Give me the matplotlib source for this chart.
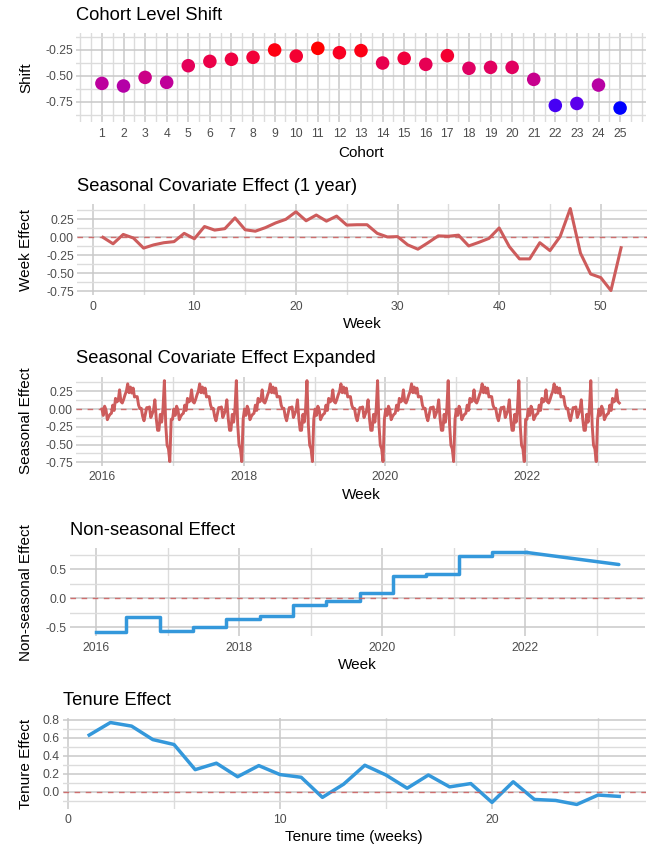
import numpy as np
import pandas as pd
import matplotlib
matplotlib.use("Agg")
import matplotlib.pyplot as plt
import matplotlib.dates as mdates
from matplotlib.ticker import FixedLocator

plt.rcParams["font.family"] = ["Liberation Sans", "DejaVu Sans"]

# ---------------- data ----------------
cohorts = list(range(1, 26))
cohort_shift = [-0.573, -0.598, -0.515, -0.563, -0.402, -0.360, -0.340, -0.321,
                -0.250, -0.309, -0.234, -0.276, -0.256, -0.376, -0.331, -0.389,
                -0.305, -0.427, -0.418, -0.418, -0.534, -0.786, -0.767, -0.589,
                -0.811]

weeks = list(range(1, 53))
week_effect = [0.00, -0.09, 0.04, -0.01, -0.15, -0.105, -0.075, -0.06, 0.055, -0.02,
               0.15, 0.10, 0.12, 0.27, 0.105, 0.085, 0.135, 0.20, 0.25, 0.355,
               0.23, 0.31, 0.225, 0.295, 0.17, 0.175, 0.175, 0.055, 0.005, 0.01,
               -0.105, -0.165, -0.075, 0.02, 0.015, 0.03, -0.12, -0.07, -0.015, 0.13,
               -0.13, -0.30, -0.30, -0.075, -0.185, 0.01, 0.40, -0.22, -0.51, -0.56,
               -0.74, -0.145]

series_start = "2016-01-01"
series_end = "2023-04-25"

trend_change_dates = ["2016-01-01", "2016-06-03", "2016-11-21", "2017-05-11",
                      "2017-10-26", "2018-04-16", "2018-10-04", "2019-03-21",
                      "2019-09-09", "2020-02-24", "2020-08-14", "2021-01-29",
                      "2021-07-16"]
trend_levels = [-0.59, -0.33, -0.57, -0.49, -0.36, -0.31, -0.115, -0.05,
                0.10, 0.39, 0.425, 0.727, 0.795]
decline_dates = ["2022-01-06", "2023-04-25"]
decline_levels = [0.795, 0.585]

tenure_weeks = list(range(1, 27))
tenure_effect = [0.63, 0.77, 0.73, 0.58, 0.525, 0.245, 0.317, 0.166, 0.29, 0.19,
                 0.16, -0.064, 0.083, 0.294, 0.185, 0.038, 0.185, 0.053, 0.09, -0.12,
                 0.11, -0.087, -0.098, -0.143, -0.038, -0.053]

# ---------------- helpers ----------------
W, H = 650, 847
fig = plt.figure(figsize=(W / 100, H / 100), dpi=100)

RED = "#cd5c5c"
BLUE = "#3498db"
TICK_COL = "#4d4d4d"


def add_panel(left, top, right, bottom):
    return fig.add_axes([left / W, 1 - bottom / H, (right - left) / W, (bottom - top) / H])


def finish(ax, box, title, xlabel, ylabel, xlab_gap=29):
    left, top, right, bottom = box
    for s in ax.spines.values():
        s.set_visible(False)
    ax.tick_params(which="both", length=0, labelsize=8.8, labelcolor=TICK_COL)
    ax.tick_params(axis="x", pad=4)
    ax.tick_params(axis="y", pad=2.2)
    ax.grid(which="major", color="#c9c9c9", lw=1.1)
    ax.grid(which="minor", color="#dcdcdc", lw=1.0)
    ax.set_axisbelow(True)
    fig.text(left / W, 1 - (top - 18) / H, title, ha="left", va="center", fontsize=13.2)
    fig.text(26 / W, 1 - ((top + bottom) / 2) / H, ylabel, rotation=90,
             ha="center", va="center", fontsize=11)
    fig.text(((left + right) / 2) / W, 1 - (bottom + xlab_gap) / H, xlabel,
             ha="center", va="center", fontsize=11)


def zero_line(ax):
    ax.axhline(0, color=RED, lw=1.0, ls=(0, (4, 4)), alpha=0.85, zorder=3)


def srgb_to_lab(rgb):
    rgb = np.asarray(rgb, float)
    lin = np.where(rgb <= 0.04045, rgb / 12.92, ((rgb + 0.055) / 1.055) ** 2.4)
    M = np.array([[0.4124, 0.3576, 0.1805], [0.2126, 0.7152, 0.0722], [0.0193, 0.1192, 0.9505]])
    xyz = lin @ M.T / np.array([0.95047, 1.0, 1.08883])
    f = np.where(xyz > 0.008856, np.cbrt(xyz), 7.787 * xyz + 16 / 116)
    return np.stack([116 * f[..., 1] - 16, 500 * (f[..., 0] - f[..., 1]),
                     200 * (f[..., 1] - f[..., 2])], axis=-1)


def lab_to_srgb(lab):
    lab = np.asarray(lab, float)
    fy = (lab[..., 0] + 16) / 116
    fx = fy + lab[..., 1] / 500
    fz = fy - lab[..., 2] / 200
    f = np.stack([fx, fy, fz], axis=-1)
    xyz = np.where(f ** 3 > 0.008856, f ** 3, (f - 16 / 116) / 7.787) * np.array([0.95047, 1.0, 1.08883])
    Minv = np.linalg.inv(np.array([[0.4124, 0.3576, 0.1805], [0.2126, 0.7152, 0.0722], [0.0193, 0.1192, 0.9505]]))
    lin = np.clip(xyz @ Minv.T, 0, 1)
    rgb = np.where(lin <= 0.0031308, 12.92 * lin, 1.055 * lin ** (1 / 2.4) - 0.055)
    return np.clip(rgb, 0, 1)


def year_locators(ax):
    ax.xaxis.set_major_locator(FixedLocator(mdates.date2num(pd.to_datetime(
        ["2016-01-01", "2018-01-01", "2020-01-01", "2022-01-01"]))))
    ax.xaxis.set_minor_locator(FixedLocator(mdates.date2num(pd.to_datetime(
        ["2017-01-01", "2019-01-01", "2021-01-01", "2023-01-01"]))))
    ax.xaxis.set_major_formatter(mdates.DateFormatter("%Y"))


# ---------------- panel 1: cohort level shift ----------------
box1 = (76, 33, 646, 122)
ax1 = add_panel(*box1)
vals = np.array(cohort_shift)
t = (vals - vals.min()) / (vals.max() - vals.min())
lab_lo, lab_hi = srgb_to_lab([0, 0, 1]), srgb_to_lab([1, 0, 0])
cols = lab_to_srgb(lab_lo + t[:, None] * (lab_hi - lab_lo))
ax1.scatter(cohorts, cohort_shift, s=95, c=cols, edgecolors="none", zorder=3)
ax1.set_xlim(-0.2, 26.2)
ax1.set_ylim(-0.946, -0.086)
ax1.xaxis.set_major_locator(FixedLocator(cohorts))
ax1.set_xticklabels([str(c) for c in cohorts])
ax1.xaxis.set_minor_locator(FixedLocator([0] + list(np.arange(0.5, 26, 1.0)) + [26]))
ax1.yaxis.set_major_locator(FixedLocator([-0.75, -0.5, -0.25]))
ax1.set_yticklabels(["-0.75", "-0.50", "-0.25"])
ax1.yaxis.set_minor_locator(FixedLocator([-0.875, -0.625, -0.375, -0.125]))
finish(ax1, box1, "Cohort Level Shift", "Cohort", "Shift", xlab_gap=31)

# ---------------- panel 2: seasonal effect, one year ----------------
box2 = (77, 204.4, 647, 295.4)
ax2 = add_panel(*box2)
ax2.plot(weeks, week_effect, color=RED, lw=2.2, solid_joinstyle="round", zorder=2)
zero_line(ax2)
ax2.set_xlim(-1.55, 54.55)
ax2.set_ylim(-0.8075, 0.4575)
ax2.xaxis.set_major_locator(FixedLocator([0, 10, 20, 30, 40, 50]))
ax2.xaxis.set_minor_locator(FixedLocator([5, 15, 25, 35, 45]))
yt = [-0.75, -0.5, -0.25, 0.0, 0.25]
ax2.yaxis.set_major_locator(FixedLocator(yt))
ax2.set_yticklabels(["-0.75", "-0.50", "-0.25", "0.00", "0.25"])
ax2.yaxis.set_minor_locator(FixedLocator([-0.625, -0.375, -0.125, 0.125, 0.375]))
finish(ax2, box2, "Seasonal Covariate Effect (1 year)", "Week", "Week Effect")

# ---------------- panel 3: seasonal effect expanded over the calendar ----------------
d0, d1 = pd.Timestamp(series_start), pd.Timestamp(series_end)
dates = pd.date_range(d0, d1, freq="7D")
week_idx = np.minimum((dates.dayofyear.values - 1) // 7 + 1, 52)
lookup = dict(zip(weeks, week_effect))
seasonal = np.array([lookup[w] for w in week_idx])
pad = (d1 - d0) * 0.05

box3 = (76, 376.6, 646, 465.6)
ax3 = add_panel(*box3)
ax3.plot(dates, seasonal, color=RED, lw=2.1, solid_joinstyle="round", zorder=2)
zero_line(ax3)
ax3.set_xlim(d0 - pad, d1 + pad)
ax3.set_ylim(-0.797, 0.457)
year_locators(ax3)
ax3.yaxis.set_major_locator(FixedLocator(yt))
ax3.set_yticklabels(["-0.75", "-0.50", "-0.25", "0.00", "0.25"])
ax3.yaxis.set_minor_locator(FixedLocator([-0.625, -0.375, -0.125, 0.125, 0.375]))
finish(ax3, box3, "Seasonal Covariate Effect Expanded", "Week", "Seasonal Effect")

# ---------------- panel 4: non-seasonal effect ----------------
box4 = (70, 548.4, 645, 636.4)
ax4 = add_panel(*box4)
step_x = pd.to_datetime(trend_change_dates + [decline_dates[0]])
step_y = trend_levels + [trend_levels[-1]]
ax4.plot(step_x, step_y, drawstyle="steps-post", color=BLUE, lw=2.5, zorder=2)
ax4.plot(pd.to_datetime(decline_dates), decline_levels, color=BLUE, lw=2.5,
         solid_capstyle="round", zorder=2)
zero_line(ax4)
ax4.set_xlim(d0 - pad, d1 + pad)
ax4.set_ylim(-0.659, 0.864)
year_locators(ax4)
ax4.yaxis.set_major_locator(FixedLocator([-0.5, 0.0, 0.5]))
ax4.set_yticklabels(["-0.5", "0.0", "0.5"])
ax4.yaxis.set_minor_locator(FixedLocator([-0.25, 0.25, 0.75]))
finish(ax4, box4, "Non-seasonal Effect", "Week", "Non-seasonal Effect")

# ---------------- panel 5: tenure effect ----------------
box5 = (62.7, 718.4, 645.7, 808.6)
ax5 = add_panel(*box5)
ax5.plot(tenure_weeks, tenure_effect, color=BLUE, lw=2.5, solid_joinstyle="round", zorder=2)
zero_line(ax5)
ax5.set_xlim(-0.25, 27.25)
ax5.set_ylim(-0.189, 0.816)
ax5.xaxis.set_major_locator(FixedLocator([0, 10, 20]))
ax5.xaxis.set_minor_locator(FixedLocator([5, 15, 25]))
ax5.yaxis.set_major_locator(FixedLocator([0.0, 0.2, 0.4, 0.6, 0.8]))
ax5.set_yticklabels(["0.0", "0.2", "0.4", "0.6", "0.8"])
ax5.yaxis.set_minor_locator(FixedLocator([-0.1, 0.1, 0.3, 0.5, 0.7]))
finish(ax5, box5, "Tenure Effect", "Tenure time (weeks)", "Tenure Effect", xlab_gap=28)

fig.savefig("out.png", dpi=100, facecolor="white")
